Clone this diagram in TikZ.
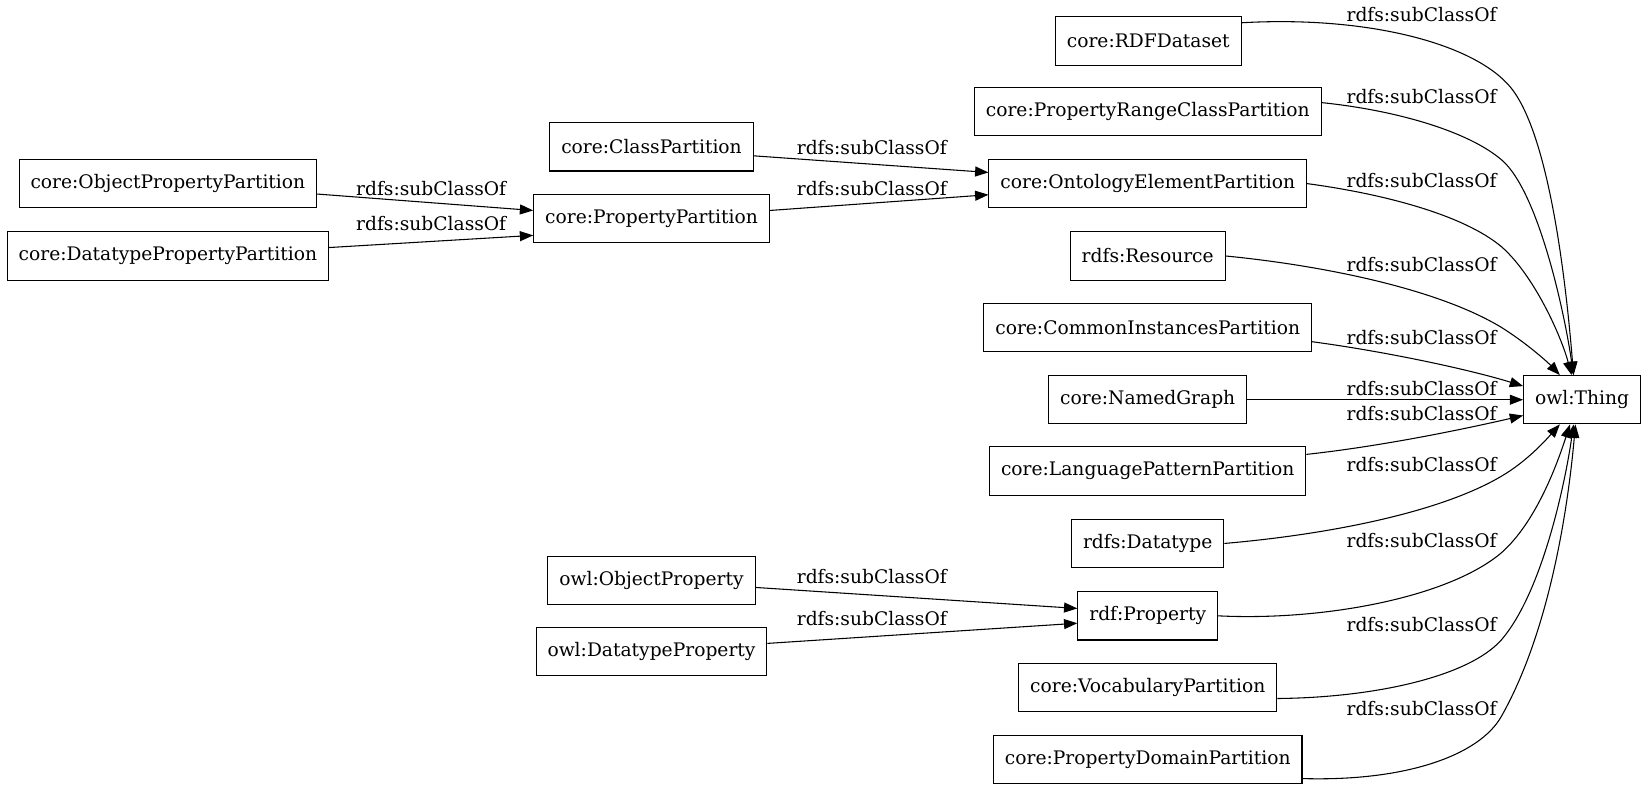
\documentclass[tikz,border=0pt]{standalone}
\usepackage{fontspec}
\setmainfont{DejaVu Serif}
\usetikzlibrary{arrows.meta}

\begin{document}
\begin{tikzpicture}[x=0.7868pt, y=-0.7868pt,
    cls/.style={draw, line width=0.8pt, minimum height=36.2pt, inner xsep=8.6pt,
                font=\fontsize{14}{16}\selectfont},
    sub/.style={-{Triangle[length=10pt, width=7.5pt]}, line width=0.8pt},
    lbl/.style={font=\fontsize{14}{16}\selectfont, inner sep=0pt}]
  \useasboundingbox (0,0) rectangle (1568,752);
  % middle column
  \node[cls] (rdfds) at (1094.5,39)  {core:RDFDataset};
  \node[cls] (prcp)  at (1094,106.5) {core:PropertyRangeClassPartition};
  \node[cls] (oep)   at (1094,175)   {core:OntologyElementPartition};
  \node[cls] (res)   at (1094,244)   {rdfs:Resource};
  \node[cls] (cip)   at (1094,312)   {core:CommonInstancesPartition};
  \node[cls] (ng)    at (1094,381)   {core:NamedGraph};
  \node[cls] (lpp)   at (1094,449)   {core:LanguagePatternPartition};
  \node[cls] (dt)    at (1094,518)   {rdfs:Datatype};
  \node[cls] (rp)    at (1094,587)   {rdf:Property};
  \node[cls] (vp)    at (1094,655)   {core:VocabularyPartition};
  \node[cls] (pdp)   at (1094,724)   {core:PropertyDomainPartition};
  \node[cls] (thing) at (1508,381)   {owl:Thing};
  % left columns
  \node[cls] (cp)  at (621,140)   {core:ClassPartition};
  \node[cls] (pp)  at (621,208.5) {core:PropertyPartition};
  \node[cls] (opp) at (160,175)   {core:ObjectPropertyPartition};
  \node[cls] (dpp) at (160,244)   {core:DatatypePropertyPartition};
  \node[cls] (oop) at (621,553)   {owl:ObjectProperty};
  \node[cls] (odp) at (621,621)   {owl:DatatypeProperty};
  % edge labels
  \foreach \nm/\xx/\yy in {l1/1355/14, l2/1355/92, l3/1355/172, l4/1355/252,
      l5/1355/322, l6/1355/370, l7/1355/394, l8/1355/443, l9/1355/515,
      l10/1355/595, l11/1355/675, l12/831/141, l13/831/180, l14/411/180,
      l15/411/213, l16/831/550, l17/831/590}
    \node[lbl] (\nm) at (\xx,\yy) {rdfs:subClassOf};
  % edges into owl:Thing
  \draw[sub] (rdfds.11) .. controls (1300,15) and (1400,40) .. (1437,80)
             .. controls (1475,120) and (1492,260) .. (thing.109);
  \draw[sub] (prcp.3) .. controls (1330,105) and (1400,125) .. (1432,153)
             .. controls (1465,182) and (1490,290) .. (thing.109);
  \draw[sub] (oep.east) .. controls (1320,185) and (1395,205) .. (1431,235)
             .. controls (1462,262) and (1488,320) .. (thing.113);
  \draw[sub] (res.east) .. controls (1260,253) and (1370,275) .. (1431,312)
             .. controls (1455,327) and (1475,345) .. (thing.132);
  \draw[sub] (cip.-5) .. controls (1320,335) and (1400,352) .. (thing.167);
  \draw[sub] (ng.east) -- (thing.west);
  \draw[sub] (lpp.6) .. controls (1320,425) and (1400,408) .. (thing.195);
  \draw[sub] (dt.east) .. controls (1260,510) and (1370,490) .. (1431,454)
             .. controls (1455,440) and (1473,420) .. (thing.228);
  \draw[sub] (rp.east) .. controls (1260,592) and (1380,570) .. (1431,527)
             .. controls (1465,497) and (1485,440) .. (thing.244);
  \draw[sub] (vp.-5) .. controls (1310,665) and (1400,645) .. (1431,610)
             .. controls (1470,565) and (1492,460) .. (thing.251);
  \draw[sub] (pdp.-7) .. controls (1340,745) and (1410,720) .. (1431,683)
             .. controls (1478,600) and (1495,480) .. (thing.255);
  % edges on the left
  \draw[sub] (cp.-5) -- (oep.176);
  \draw[sub] (pp.4) -- (oep.184);
  \draw[sub] (opp.-4) -- (pp.176);
  \draw[sub] (dpp.3) -- (pp.188);
  \draw[sub] (oop.-4) -- (rp.174);
  \draw[sub] (odp.4) -- (rp.186);
\end{tikzpicture}
\end{document}
